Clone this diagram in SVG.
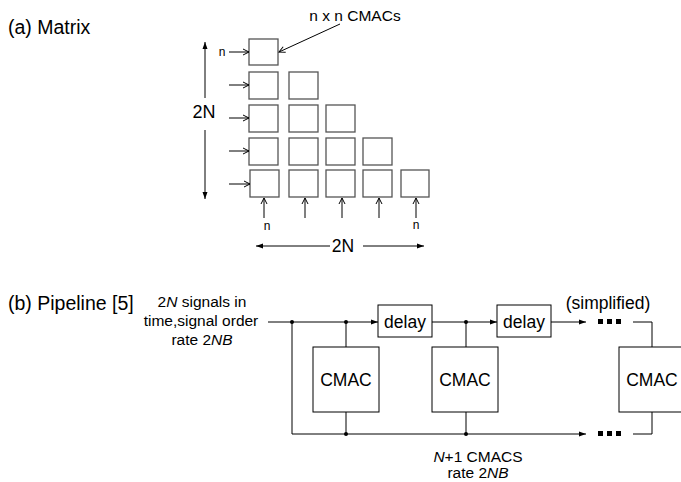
<svg xmlns="http://www.w3.org/2000/svg" width="681" height="482" viewBox="0 0 681 482">
<style>
text{font-family:"Liberation Sans",Arial,sans-serif;fill:#000}
.cell{fill:#fff;stroke:#555;stroke-width:1.3}
.ln{fill:none;stroke:#000;stroke-width:1}
.box{fill:#fff;stroke:#000;stroke-width:1}
.dot{fill:#000}
</style>
<defs>
<marker id="open" markerWidth="8" markerHeight="8" refX="7" refY="4" orient="auto" markerUnits="userSpaceOnUse">
<path d="M1,1 L7,4 L1,7" fill="none" stroke="#000" stroke-width="1"/>
</marker>
<marker id="fill" markerWidth="8" markerHeight="8" refX="7" refY="4" orient="auto" markerUnits="userSpaceOnUse">
<path d="M0,1.5 L7,4 L0,6.5 Z" fill="#000"/>
</marker>
</defs>
<text x="8" y="34" font-size="19.5">(a) Matrix</text>
<text x="8" y="310" font-size="19.5">(b) Pipeline [5]</text>

<g id="matrix">
<g id="cells">
<rect class="cell" x="249" y="39" width="29" height="26"/>
<rect class="cell" x="249" y="72" width="29" height="27"/>
<rect class="cell" x="289" y="72" width="29" height="27"/>
<rect class="cell" x="249" y="105" width="29" height="27"/>
<rect class="cell" x="289" y="105" width="29" height="27"/>
<rect class="cell" x="326" y="105" width="29" height="27"/>
<rect class="cell" x="249" y="138" width="29" height="27"/>
<rect class="cell" x="289" y="138" width="29" height="27"/>
<rect class="cell" x="326" y="138" width="29" height="27"/>
<rect class="cell" x="363" y="138" width="29" height="27"/>
<rect class="cell" x="250" y="170" width="29" height="27"/>
<rect class="cell" x="289" y="170" width="29" height="27"/>
<rect class="cell" x="326" y="170" width="29" height="27"/>
<rect class="cell" x="363" y="170" width="29" height="27"/>
<rect class="cell" x="401" y="170" width="28" height="27"/>
</g>
<text x="355" y="21" font-size="15.5" text-anchor="middle">n x n CMACs</text>
<text x="222" y="56" font-size="12" text-anchor="middle">n</text>
<text x="204" y="118" font-size="18" text-anchor="middle">2N</text>
<text x="267" y="230" font-size="12" text-anchor="middle">n</text>
<text x="416" y="229" font-size="12" text-anchor="middle">n</text>
<text x="343" y="252" font-size="17.5" text-anchor="middle">2N</text>
</g>

<g id="pipeline-text">
<text x="202" y="307" font-size="15.5" text-anchor="middle">2<tspan font-style="italic">N</tspan> signals in</text>
<text x="201" y="326" font-size="15.5" text-anchor="middle">time,signal order</text>
<text x="202" y="345" font-size="15.5" text-anchor="middle">rate 2<tspan font-style="italic">NB</tspan></text>
<text x="608" y="309" font-size="17.5" text-anchor="middle">(simplified)</text>
<text x="478" y="462" font-size="15.5" text-anchor="middle"><tspan font-style="italic">N</tspan>+1 CMACS</text>
<text x="478" y="478" font-size="15.5" text-anchor="middle">rate 2<tspan font-style="italic">NB</tspan></text>
</g>

<g id="delay1"><rect class="box" x="378" y="305" width="54" height="32"/><text x="405" y="328" font-size="17.5" text-anchor="middle">delay</text></g>
<g id="delay2"><rect class="box" x="497" y="305" width="54" height="32"/><text x="524" y="328" font-size="17.5" text-anchor="middle">delay</text></g>
<g id="cmac1"><rect class="box" x="313" y="347" width="66" height="65"/><text x="346" y="386" font-size="17.5" text-anchor="middle">CMAC</text></g>
<g id="cmac2"><rect class="box" x="432" y="347" width="66" height="65"/><text x="465" y="386" font-size="17.5" text-anchor="middle">CMAC</text></g>
<g id="cmac3"><rect class="box" x="619" y="347" width="68" height="65"/><text x="652" y="386" font-size="17.5" text-anchor="middle">CMAC</text></g>

<g id="connectors">
<line class="ln" x1="229" y1="52" x2="249" y2="52" marker-end="url(#open)"/>
<line class="ln" x1="229" y1="85" x2="249" y2="85" marker-end="url(#open)"/>
<line class="ln" x1="229" y1="118" x2="249" y2="118" marker-end="url(#open)"/>
<line class="ln" x1="229" y1="151" x2="249" y2="151" marker-end="url(#open)"/>
<line class="ln" x1="229" y1="184" x2="250" y2="184" marker-end="url(#open)"/>
<line class="ln" x1="340" y1="24" x2="279" y2="52" marker-end="url(#open)"/>
<line class="ln" x1="264" y1="218" x2="264" y2="198" marker-end="url(#open)"/>
<line class="ln" x1="305" y1="218" x2="305" y2="198" marker-end="url(#open)"/>
<line class="ln" x1="342" y1="218" x2="342" y2="198" marker-end="url(#open)"/>
<line class="ln" x1="379" y1="218" x2="379" y2="198" marker-end="url(#open)"/>
<line class="ln" x1="416" y1="218" x2="416" y2="198" marker-end="url(#open)"/>
<line class="ln" x1="205" y1="98" x2="205" y2="42" marker-end="url(#fill)"/>
<line class="ln" x1="205" y1="130" x2="205" y2="199" marker-end="url(#fill)"/>
<line class="ln" x1="330" y1="246" x2="256" y2="246" marker-end="url(#fill)"/>
<line class="ln" x1="363" y1="246" x2="424" y2="246" marker-end="url(#fill)"/>
<line class="ln" x1="268" y1="322" x2="378" y2="322" marker-end="url(#fill)"/>
<line class="ln" x1="432" y1="322" x2="497" y2="322" marker-end="url(#fill)"/>
<line class="ln" x1="551" y1="322" x2="586" y2="322" marker-end="url(#fill)"/>
<polyline class="ln" points="292,322 292,434 586,434" marker-end="url(#fill)"/>
<line class="ln" x1="346" y1="322" x2="346" y2="347"/>
<line class="ln" x1="346" y1="412" x2="346" y2="434"/>
<line class="ln" x1="466" y1="322" x2="466" y2="347"/>
<line class="ln" x1="466" y1="412" x2="466" y2="434"/>
<polyline class="ln" points="633,322 652,322 652,347"/>
<polyline class="ln" points="633,434 652,434 652,412"/>
<circle class="dot" cx="292" cy="322" r="2"/>
<circle class="dot" cx="346" cy="322" r="2"/>
<circle class="dot" cx="466" cy="322" r="2"/>
<circle class="dot" cx="346" cy="434" r="2"/>
<circle class="dot" cx="466" cy="434" r="2"/>
<g fill="#000">
<rect x="598" y="319" width="5" height="5"/><rect x="607" y="319" width="5" height="5"/><rect x="616" y="319" width="5" height="5"/>
<rect x="598" y="431" width="5" height="5"/><rect x="607" y="431" width="5" height="5"/><rect x="616" y="431" width="5" height="5"/>
</g>
</g>
</svg>
